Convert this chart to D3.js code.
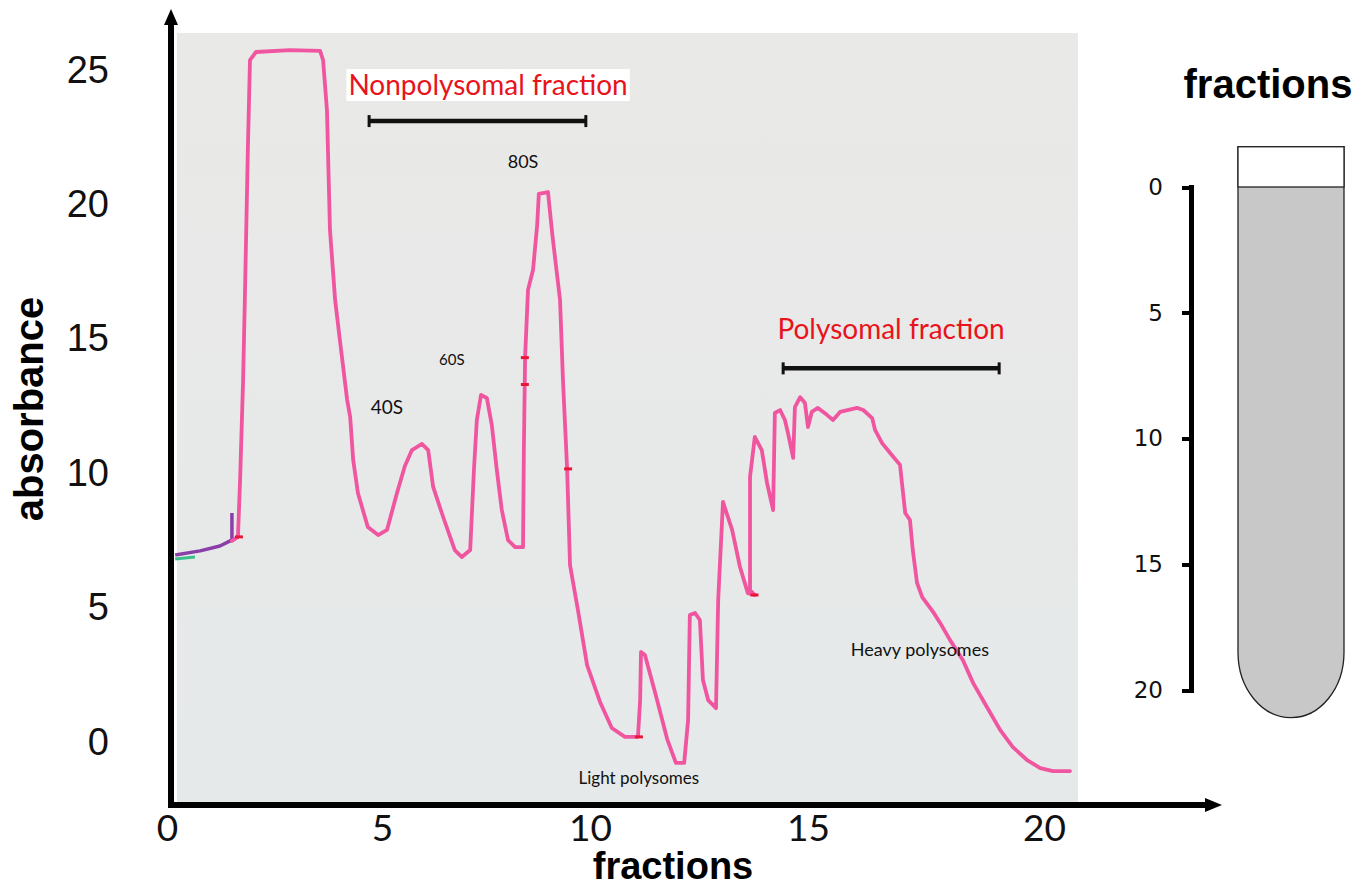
<!DOCTYPE html>
<html>
<head>
<meta charset="utf-8">
<script src="https://d3js.org/d3.v7.min.js"></script>
<style>
  body { margin: 0; background: #fff; }
  svg { display: block; }
  .tick line { shape-rendering: crispEdges; }
</style>
</head>
<body>
<div id="chart"></div>
<script>
    // tick labels
    const xTicks = [0, 5, 10, 15, 20];
    const yTicks = [0, 5, 10, 15, 20, 25];
    const tubeTicks = [0, 5, 10, 15, 20];

    const profile = [
        [1.51, 7.48], [1.65, 7.63], [1.70, 9.75], [1.77, 13.47], [1.81, 16.44], [1.88, 22.02],
        [1.93, 25.37], [2.07, 25.67], [2.86, 25.74], [3.56, 25.71], [3.63, 25.37], [3.72, 23.51],
        [3.79, 19.05], [3.91, 16.44], [4.02, 14.96], [4.19, 12.72], [4.26, 12.09], [4.33, 10.49],
        [4.44, 9.26], [4.67, 8.00], [4.91, 7.70], [5.12, 7.89], [5.36, 9.26], [5.55, 10.27],
        [5.72, 10.86], [5.96, 11.09], [6.11, 10.86], [6.23, 9.49], [6.47, 8.37], [6.75, 7.14],
        [6.92, 6.88], [7.12, 7.14], [7.21, 10.12], [7.28, 11.98], [7.38, 12.91], [7.52, 12.80],
        [7.64, 11.79], [7.76, 10.12], [7.88, 8.63], [8.03, 7.51], [8.20, 7.25], [8.39, 7.25],
        [8.41, 10.86], [8.44, 14.32], [8.51, 16.82], [8.63, 17.56], [8.73, 19.23], [8.77, 20.39],
        [8.99, 20.46], [9.09, 18.94], [9.18, 17.75], [9.28, 16.44], [9.35, 13.47], [9.45, 10.16],
        [9.52, 6.58], [9.71, 4.91], [9.93, 2.86], [10.23, 1.49], [10.50, 0.52], [10.80, 0.19],
        [11.10, 0.19], [11.15, 1.56], [11.17, 3.35], [11.26, 3.24], [11.49, 1.86], [11.77, 0.11],
        [11.97, -0.78], [12.16, -0.78], [12.25, 0.82], [12.29, 4.72], [12.41, 4.80], [12.52, 4.54],
        [12.59, 2.31], [12.71, 1.56], [12.89, 1.26], [12.94, 5.28], [13.05, 8.93], [13.26, 7.89],
        [13.44, 6.51], [13.62, 5.54], [13.78, 5.47], [13.67, 5.65], [13.67, 9.86], [13.78, 11.35],
        [13.94, 10.86], [14.06, 9.64], [14.20, 8.63], [14.24, 12.24], [14.36, 12.35], [14.47, 11.98],
        [14.54, 11.50], [14.66, 10.57], [14.70, 12.46], [14.82, 12.83], [14.93, 12.61], [15.00, 11.72],
        [15.08, 12.28], [15.21, 12.43], [15.40, 12.17], [15.53, 11.98], [15.68, 12.28], [16.04, 12.43],
        [16.17, 12.35], [16.36, 12.05], [16.42, 11.61], [16.57, 11.12], [16.74, 10.75], [16.95, 10.31],
        [16.99, 9.64], [17.06, 8.52], [17.16, 8.26], [17.22, 7.14], [17.31, 5.92], [17.42, 5.39],
        [17.65, 4.84], [17.80, 4.43], [18.01, 3.79], [18.28, 3.05], [18.50, 2.19], [18.79, 1.30],
        [19.07, 0.45], [19.34, -0.19], [19.64, -0.67], [19.92, -0.97], [20.19, -1.08], [20.55, -1.08]
    ];

    // baseline pieces before the injection (purple / green pen)
    const baselinePurple = [[0.19, 6.96], [0.77, 7.11], [1.23, 7.29], [1.47, 7.48], [1.51, 7.51], [1.51, 8.52]];
    const baselineGreen = [[0.19, 6.81], [0.65, 6.88]];

    // little red pen marks along the trace
    const redMarks = [[1.65, 7.63], [8.41, 14.3], [8.41, 13.3], [9.45, 10.16], [11.10, 0.19], [13.75, 5.47]];

    // fraction ranges : [label, from, to, absorbance level]
    const ranges = [
        ["Nonpolysomal fraction", 4.70, 9.90, 23.1],
        ["Polysomal fraction", 14.43, 19.05, 13.9]
    ];
    const rangeLabels = [[7.55, 24.07], [16.76, 14.99]];

    // peak labels : [text, fraction, absorbance, font size]
    const peakLabels = [
        ["40S", 5.12, 12.20, 19],
        ["60S", 6.68, 14.03, 15],
        ["80S", 8.39, 21.35, 18],
        ["Light polysomes", 11.12, -1.56, 17],
        ["Heavy polysomes", 17.37, 3.20, 18]
    ];

    const width = 1368, height = 890;

    const svg = d3.select("#chart")
        .append("svg")
        .attr("width", width)
        .attr("height", height);

    // scales (the scan's tick labels are not evenly spaced)
    const x = d3.scaleLinear().domain(xTicks).range([167, 382, 590, 808, 1044]);
    const y = d3.scaleLinear().domain([0, 25]).range([742, 70]);
    const yTube = d3.scaleLinear().domain([0, 20]).range([187, 690]);

    // scanned paper background
    const grad = svg.append("defs").append("linearGradient")
        .attr("id", "paper").attr("x1", 0).attr("y1", 0).attr("x2", 0).attr("y2", 1);
    grad.append("stop").attr("offset", "0%").attr("stop-color", "#e9e9e7");
    grad.append("stop").attr("offset", "100%").attr("stop-color", "#e6e9ea");
    svg.append("rect")
        .attr("x", 177).attr("y", 33)
        .attr("width", 901).attr("height", 769)
        .attr("fill", "url(#paper)");

    // trace
    const line = d3.line().x(d => x(d[0])).y(d => y(d[1]));

    svg.append("path")
        .datum(baselineGreen)
        .attr("d", line)
        .attr("fill", "none")
        .attr("stroke", "#3cbf8a")
        .attr("stroke-width", 3);

    svg.append("path")
        .datum(baselinePurple)
        .attr("d", line)
        .attr("fill", "none")
        .attr("stroke", "#8a3fa8")
        .attr("stroke-width", 3.5)
        .attr("stroke-linejoin", "round");

    svg.append("path")
        .datum(profile)
        .attr("d", line)
        .attr("fill", "none")
        .attr("stroke", "#f0559f")
        .attr("stroke-width", 3.8)
        .attr("stroke-linejoin", "round")
        .attr("stroke-linecap", "round");

    svg.selectAll("redmarks")
        .data(redMarks)
        .enter()
        .append("line")
        .attr("x1", d => x(d[0]) - 3)
        .attr("x2", d => x(d[0]) + 5)
        .attr("y1", d => y(d[1]))
        .attr("y2", d => y(d[1]))
        .attr("stroke", "#e8173a")
        .attr("stroke-width", 3);

    // fraction range bars
    const bars = svg.selectAll("ranges")
        .data(ranges)
        .enter()
        .append("g");
    bars.append("line")
        .attr("x1", d => x(d[1])).attr("x2", d => x(d[2]))
        .attr("y1", d => y(d[3])).attr("y2", d => y(d[3]))
        .attr("stroke", "#111").attr("stroke-width", 4.5);
    bars.append("line")
        .attr("x1", d => x(d[1])).attr("x2", d => x(d[1]))
        .attr("y1", d => y(d[3]) - 6).attr("y2", d => y(d[3]) + 6)
        .attr("stroke", "#111").attr("stroke-width", 3);
    bars.append("line")
        .attr("x1", d => x(d[2])).attr("x2", d => x(d[2]))
        .attr("y1", d => y(d[3]) - 6).attr("y2", d => y(d[3]) + 6)
        .attr("stroke", "#111").attr("stroke-width", 3);

    // range titles in red (first one sits on a white box)
    const titles = svg.selectAll("rangetitles")
        .data(ranges)
        .enter()
        .append("g");
    titles.each(function(d, i) {
        const g = d3.select(this);
        const t = g.append("text")
            .attr("x", x(rangeLabels[i][0]))
            .attr("y", y(rangeLabels[i][1]))
            .attr("text-anchor", "middle")
            .style("font-family", "Lato, 'Open Sans', sans-serif")
            .style("font-size", "28px")
            .attr("fill", "#e8131b")
            .text(d[0]);
        if (i === 0) {
            const b = t.node().getBBox();
            g.insert("rect", "text")
                .attr("x", b.x - 2).attr("y", b.y + 2)
                .attr("width", b.width + 4).attr("height", b.height - 2)
                .attr("fill", "#fff");
        }
    });

    // peak labels
    svg.selectAll("peaklabels")
        .data(peakLabels)
        .enter()
        .append("text")
        .attr("x", d => x(d[1]))
        .attr("y", d => y(d[2]))
        .attr("text-anchor", "middle")
        .style("font-family", "Lato, 'Open Sans', sans-serif")
        .style("font-size", d => d[3] + "px")
        .attr("fill", "#111")
        .text(d => d[0]);

    // axes : thick black arrows
    svg.append("line")
        .attr("x1", 171).attr("x2", 171)
        .attr("y1", 808).attr("y2", 22)
        .attr("stroke", "#000").attr("stroke-width", 6);
    svg.append("path")
        .attr("d", "M171,9L164,25L178,25Z")
        .attr("fill", "#000");
    svg.append("line")
        .attr("x1", 168).attr("x2", 1208)
        .attr("y1", 805).attr("y2", 805)
        .attr("stroke", "#000").attr("stroke-width", 6);
    svg.append("path")
        .attr("d", "M1222,805L1205,798L1205,812Z")
        .attr("fill", "#000");

    const xAxis = svg.append("g")
        .attr("transform", "translate(0,805)")
        .call(d3.axisBottom(x).tickValues(xTicks).tickSize(0).tickPadding(10));
    xAxis.select(".domain").remove();
    xAxis.selectAll("text")
        .style("font-family", "Lato, 'Open Sans', sans-serif")
        .style("font-size", "37px")
        .attr("fill", "#111");

    const yAxis = svg.append("g")
        .attr("transform", "translate(171,0)")
        .call(d3.axisLeft(y).tickValues(yTicks).tickSize(0).tickPadding(62));
    yAxis.select(".domain").remove();
    yAxis.selectAll("text")
        .style("font-family", "'Liberation Sans', Arial, sans-serif")
        .style("font-size", "38px")
        .attr("fill", "#111");

    // axis titles
    svg.append("text")
        .attr("transform", "translate(43,409) rotate(-90)")
        .attr("text-anchor", "middle")
        .style("font-family", "'Liberation Sans', Arial, sans-serif")
        .style("font-weight", "bold")
        .style("font-size", "40px")
        .text("absorbance");

    svg.append("text")
        .attr("x", 673).attr("y", 879)
        .attr("text-anchor", "middle")
        .style("font-family", "'Liberation Sans', Arial, sans-serif")
        .style("font-weight", "bold")
        .style("font-size", "38px")
        .text("fractions");

    // tube with its own fraction scale
    svg.append("text")
        .attr("x", 1268).attr("y", 98)
        .attr("text-anchor", "middle")
        .style("font-family", "'Liberation Sans', Arial, sans-serif")
        .style("font-weight", "bold")
        .style("font-size", "40px")
        .text("fractions");

    const tubeAxis = svg.append("g")
        .attr("transform", "translate(1191,0)")
        .call(d3.axisLeft(yTube).tickValues(tubeTicks).tickSize(9).tickSizeOuter(0).tickPadding(19));
    tubeAxis.select(".domain")
        .attr("stroke", "#000").attr("stroke-width", 5).attr("stroke-linecap", "square");
    tubeAxis.selectAll(".tick line")
        .attr("stroke", "#000").attr("stroke-width", 4);
    tubeAxis.selectAll("text")
        .style("font-family", "'DejaVu Sans', Verdana, sans-serif")
        .style("font-size", "23px")
        .attr("fill", "#111");

    const tx0 = 1238, tx1 = 1344, tTop = yTube(-1.6), tStraight = yTube(18.5), tBottom = yTube(21.1);
    const rx = (tx1 - tx0) / 2, ry = tBottom - tStraight;
    svg.append("path")
        .attr("d", `M${tx0},${tTop}H${tx1}V${tStraight}A${rx},${ry} 0 0 1 ${tx0},${tStraight}Z`)
        .attr("fill", "#c8c8c8")
        .attr("stroke", "#222")
        .attr("stroke-width", 1.3);
    svg.append("rect")
        .attr("x", tx0).attr("y", tTop)
        .attr("width", tx1 - tx0).attr("height", yTube(0) - tTop)
        .attr("fill", "#fff")
        .attr("stroke", "#222")
        .attr("stroke-width", 1.3);
</script>
</body>
</html>
